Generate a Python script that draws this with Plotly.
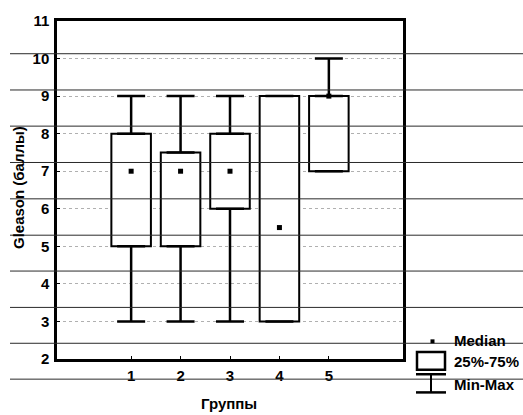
import plotly.graph_objects as go

# ---- data ----
groups = [1, 2, 3, 4, 5]
q1 = [5, 5, 6, 3, 7]
q3 = [8, 7.5, 8, 9, 9]
medians = [7, 7, 7, 5.5, 9]
mins = [3, 3, 3, 3, 7]
maxs = [9, 9, 9, 9, 10]
y_ticks = [2, 3, 4, 5, 6, 7, 8, 9, 10, 11]
x_title = "Группы"
y_title = "Gleason (баллы)"
legend_labels = ["Median", "25%-75%", "Min-Max"]

W, H = 523, 415
ML, MR, MT, MB = 57, 120, 15, 56
PW, PH = W - ML - MR, H - MT - MB


def px(x):
    return (x - ML) / PW


def py(y):
    return (H - MB - y) / PH


FONT = dict(family="Liberation Sans, Arial, sans-serif", color="black", weight="bold")

fig = go.Figure()

# boxes (25%-75%)
fig.add_trace(go.Bar(
    x=groups, y=[b - a for a, b in zip(q1, q3)], base=q1, width=0.8,
    marker=dict(color="white", line=dict(color="black", width=2)),
    showlegend=False, hoverinfo="skip",
))
# upper whiskers
fig.add_trace(go.Scatter(
    x=groups, y=q3, mode="markers",
    marker=dict(size=1, color="rgba(0,0,0,0)"),
    error_y=dict(type="data", symmetric=False,
                 array=[b - a for a, b in zip(q3, maxs)],
                 arrayminus=[0] * len(groups),
                 color="black", thickness=2.5, width=14),
    showlegend=False, hoverinfo="skip",
))
# lower whiskers
fig.add_trace(go.Scatter(
    x=groups, y=q1, mode="markers",
    marker=dict(size=1, color="rgba(0,0,0,0)"),
    error_y=dict(type="data", symmetric=False,
                 array=[0] * len(groups),
                 arrayminus=[a - b for a, b in zip(q1, mins)],
                 color="black", thickness=2.5, width=14),
    showlegend=False, hoverinfo="skip",
))
# medians
fig.add_trace(go.Scatter(
    x=groups, y=medians, mode="markers",
    marker=dict(symbol="square", size=5, color="black"),
    showlegend=False, hoverinfo="skip",
))

shapes = []
# ruled-paper lines across the scan
for ly in [48.3, 85.2, 122, 159, 196, 233, 269.5, 306.5, 343, 379.5]:
    shapes.append(dict(type="line", xref="paper", yref="paper",
                       x0=px(10), x1=px(523), y0=py(ly), y1=py(ly),
                       line=dict(color="#2a2a2a", width=1), layer="above"))

# legend symbols
shapes.append(dict(type="rect", xref="paper", yref="paper",
                   x0=px(430.5), x1=px(434.5), y0=py(343), y1=py(339),
                   fillcolor="black", line=dict(width=0)))
shapes.append(dict(type="rect", xref="paper", yref="paper",
                   x0=px(417), x1=px(445), y0=py(370), y1=py(352),
                   fillcolor="white", line=dict(color="black", width=2.5)))
shapes.append(dict(type="line", xref="paper", yref="paper",
                   x0=px(416), x1=px(446), y0=py(374.5), y1=py(374.5),
                   line=dict(color="black", width=2.5)))
shapes.append(dict(type="line", xref="paper", yref="paper",
                   x0=px(431), x1=px(431), y0=py(374.5), y1=py(393),
                   line=dict(color="black", width=2)))
shapes.append(dict(type="line", xref="paper", yref="paper",
                   x0=px(416), x1=px(446), y0=py(393), y1=py(393),
                   line=dict(color="black", width=2.5)))

annotations = [
    dict(text=x_title, xref="paper", yref="paper", x=px(229), y=py(404),
         showarrow=False, font=dict(size=15, **FONT), xanchor="center", yanchor="middle"),
    dict(text=y_title, xref="paper", yref="paper", x=px(18), y=py(185),
         showarrow=False, textangle=-90, font=dict(size=15, **FONT),
         xanchor="center", yanchor="middle"),
]
for lbl, ly in zip(legend_labels, [340, 362, 385]):
    annotations.append(dict(text=lbl, xref="paper", yref="paper", x=px(452), y=py(ly),
                            showarrow=False, font=dict(size=15, **FONT),
                            xanchor="left", yanchor="middle"))

fig.update_layout(
    width=W, height=H,
    margin=dict(l=ML, r=MR, t=MT, b=MB),
    paper_bgcolor="white", plot_bgcolor="white",
    barmode="overlay",
    shapes=shapes, annotations=annotations,
    showlegend=False,
    xaxis=dict(range=[-0.5, 6.5], tickvals=groups, ticktext=[str(g) for g in groups],
               showline=True, linewidth=2.5, linecolor="black", mirror=True,
               ticks="inside", ticklen=3, tickcolor="black", showgrid=False, zeroline=False,
               tickfont=dict(size=15, **FONT), ticklabelstandoff=1),
    yaxis=dict(range=[2, 11], tickvals=y_ticks, ticktext=[str(t) for t in y_ticks],
               showline=True, linewidth=2.5, linecolor="black", mirror=True,
               ticks="inside", ticklen=3, tickcolor="black",
               showgrid=True, gridcolor="#b0b0b0", gridwidth=1, griddash="dot",
               zeroline=False, tickfont=dict(size=15, **FONT), ticklabelstandoff=2),
)

fig.write_html("out.html")
